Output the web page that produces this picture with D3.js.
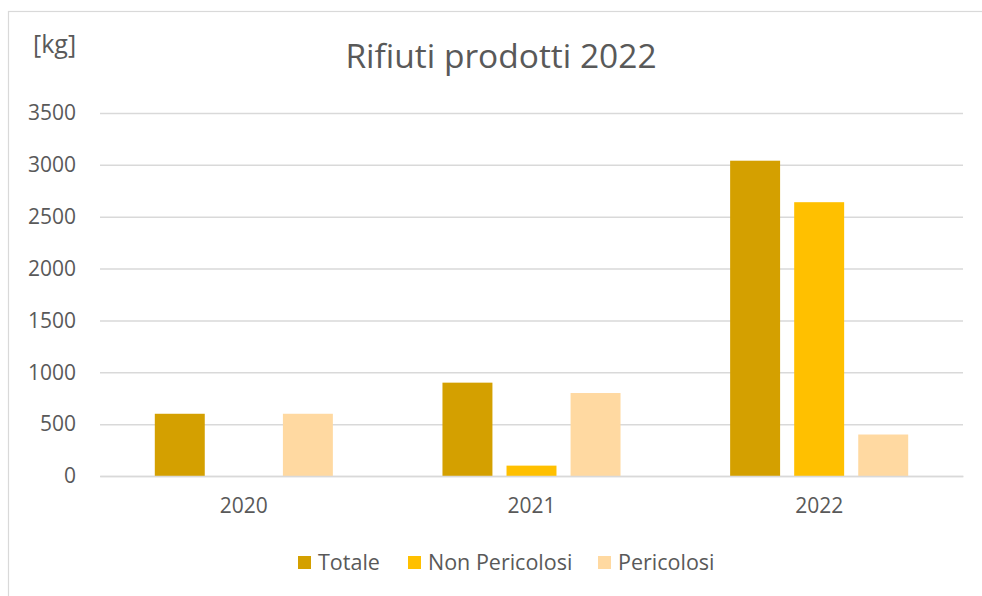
<!DOCTYPE html>
<html><head><meta charset="utf-8">
<script src="https://cdn.jsdelivr.net/npm/d3@7"></script>
<style>
html,body{margin:0;padding:0;background:#fff;}
svg{display:block;font-family:"Open Sans",sans-serif;}
</style></head>
<body>
<svg id="chart" width="982" height="596"></svg>
<script>
const categories = ["2020", "2021", "2022"];
const seriesNames = ["Totale", "Non Pericolosi", "Pericolosi"];
const totale = [600, 900, 3040];
const nonPericolosi = [0, 100, 2640];
const pericolosi = [600, 800, 400];
const yTicks = [0, 500, 1000, 1500, 2000, 2500, 3000, 3500];
const colors = ["#D4A000", "#FFC000", "#FFD9A1"];

const seriesValues = [totale, nonPericolosi, pericolosi];
const rows = categories.map((c, i) => ({cat: c, vals: seriesNames.map((s, j) => ({key: s, value: seriesValues[j][i], color: colors[j]}))}));

const svg = d3.select("#chart");
svg.append("rect").attr("x", 8.5).attr("y", 11.5).attr("width", 1000).attr("height", 600)
  .attr("fill", "#fff").attr("stroke", "#d9d9d9").attr("stroke-width", 1.2);

const mLeft = 100, mRight = 963, mTop = 113, mBottom = 476;
const x0 = d3.scaleBand().domain(categories).range([mLeft, mRight]).paddingInner(0.381).paddingOuter(0.1905);
const x1 = d3.scaleBand().domain(seriesNames).range([0, x0.bandwidth()]).paddingInner(0.22).paddingOuter(0);
const y = d3.scaleLinear().domain([0, 3500]).range([mBottom, mTop]);

const yAxis = d3.axisLeft(y).tickValues(yTicks).tickSize(-(mRight - mLeft)).tickPadding(24).tickFormat(d3.format("d"));
const gy = svg.append("g").attr("transform", `translate(${mLeft},0)`).call(yAxis);
gy.select(".domain").remove();
gy.selectAll(".tick line").attr("stroke", "#d9d9d9").attr("stroke-width", 1.5);
gy.selectAll(".tick text").attr("fill", "#595959").style("font-size", "21px").style("font-family", "'Open Sans',sans-serif");

const groups = svg.append("g").selectAll("g").data(rows).join("g")
  .attr("transform", d => `translate(${x0(d.cat)},0)`);
groups.selectAll("rect").data(d => d.vals).join("rect")
  .attr("x", d => x1(d.key))
  .attr("y", d => y(d.value))
  .attr("width", x1.bandwidth())
  .attr("height", d => y(0) - y(d.value))
  .attr("fill", d => d.color);

const xAxis = d3.axisBottom(x0).tickSize(0).tickPadding(22);
const gx = svg.append("g").attr("transform", `translate(0,${mBottom})`).call(xAxis);
gx.select(".domain").attr("stroke", "#d9d9d9").attr("stroke-width", 1.5);
gx.selectAll(".tick text").attr("fill", "#595959").style("font-size", "21px").style("font-family", "'Open Sans',sans-serif");

svg.append("text").attr("x", 501).attr("y", 68).attr("text-anchor", "middle")
  .attr("fill", "#595959").style("font-size", "33.5px").text("Rifiuti prodotti 2022");
svg.append("text").attr("x", 33).attr("y", 53)
  .attr("fill", "#595959").style("font-size", "25px").text("[kg]");

const legendX = [298, 408, 598];
const lg = svg.append("g").selectAll("g").data(seriesNames).join("g")
  .attr("transform", (d, i) => `translate(${legendX[i]},556)`);
lg.append("rect").attr("width", 13).attr("height", 13).attr("fill", (d, i) => colors[i]);
lg.append("text").attr("x", 20).attr("y", 14).attr("fill", "#595959").style("font-size", "21.5px").text(d => d);
</script>
</body></html>
